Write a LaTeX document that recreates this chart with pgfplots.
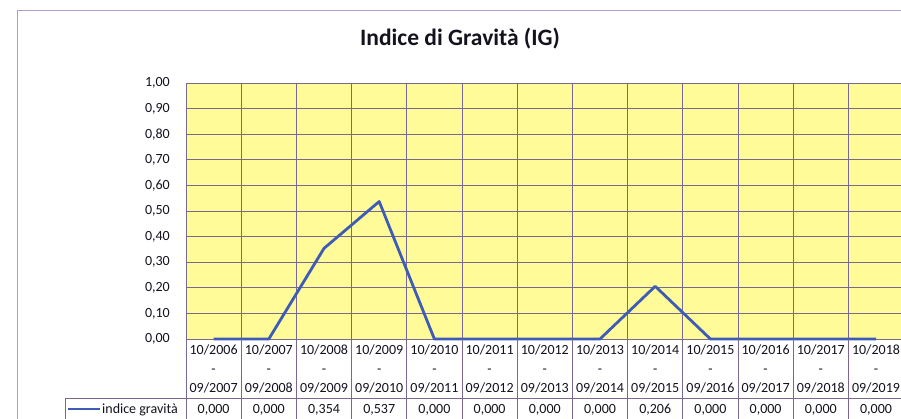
\documentclass[border=0pt]{standalone}
\usepackage{fontspec}
\setmainfont{Carlito}
\usepackage{pgfplots}
\pgfplotsset{compat=1.18}
\definecolor{plotbg}{RGB}{255,251,153}
\definecolor{gridc}{RGB}{120,105,145}
\definecolor{linec}{RGB}{62,92,182}
\definecolor{txt}{RGB}{20,18,30}
\definecolor{chartborder}{RGB}{175,155,205}
\begin{document}
\begin{tikzpicture}[x=1bp,y=1bp]
\useasboundingbox (0,0) rectangle (901,418);
\clip (0,0) rectangle (901,418);
\fill[white] (0,0) rectangle (901,418);
\draw[chartborder, line width=0.8bp] (17,-5) -- (17,408) -- (910,408);
\node[font=\bfseries\fontsize{23.5bp}{26bp}\selectfont, anchor=base, text=txt] at (460,373) {Indice di Gravità (IG)};
\begin{axis}[
  at={(186bp,79bp)}, anchor=south west,
  scale only axis, width=717.6bp, height=256bp,
  xmin=0, xmax=13, ymin=0, ymax=1,
  xtick={0.5,1.5,2.5,3.5,4.5,5.5,6.5,7.5,8.5,9.5,10.5,11.5,12.5},
  xticklabels={10/2006\\-\\09/2007,10/2007\\-\\09/2008,10/2008\\-\\09/2009,10/2009\\-\\09/2010,10/2010\\-\\09/2011,10/2011\\-\\09/2012,10/2012\\-\\09/2013,10/2013\\-\\09/2014,10/2014\\-\\09/2015,10/2015\\-\\09/2016,10/2016\\-\\09/2017,10/2017\\-\\09/2018,10/2018\\-\\09/2019},
  minor xtick={1,2,3,4,5,6,7,8,9,10,11,12},
  ytick={0,0.1,0.2,0.3,0.4,0.5,0.6,0.7,0.8,0.9,1},
  xmajorgrids=false, xminorgrids=true, ymajorgrids=true,
  major grid style={gridc, line width=0.7bp},
  minor grid style={gridc, line width=0.7bp},
  axis line style={gridc, line width=0.7bp},
  axis background/.style={fill=plotbg},
  major tick length=0pt, minor tick length=0pt,
  clip=false,
  xticklabel style={font=\fontsize{14bp}{19bp}\selectfont, text=txt, align=center, anchor=north, inner sep=0pt, yshift=-6bp},
  yticklabel style={font=\fontsize{14bp}{16bp}\selectfont, text=txt, anchor=east, inner sep=0pt, xshift=-16bp},
  /pgf/number format/assume math mode=true,
  yticklabel={\pgfmathprintnumber[fixed, fixed zerofill, precision=2, use comma]{\tick}},
]
\addplot[linec, line width=2.8bp, line join=round] coordinates {
  (0.5,0.000) (1.5,0.000) (2.5,0.354) (3.5,0.537) (4.5,0.000) (5.5,0.000)
  (6.5,0.000) (7.5,0.000) (8.5,0.206) (9.5,0.000) (10.5,0.000) (11.5,0.000) (12.5,0.000)
};
\pgfplotsinvokeforeach{0,...,13}{\draw[gridc, line width=0.7bp] (axis cs:#1,0) -- ++(0,-100bp);}
\draw[gridc, line width=0.7bp] ([xshift=-121bp,yshift=-59bp]axis cs:0,0) -- ([yshift=-59bp]axis cs:13,0);
\draw[gridc, line width=0.7bp] ([xshift=-121bp,yshift=-59bp]axis cs:0,0) -- ++(0,-40bp);
\end{axis}
\draw[linec, line width=2.6bp] (68,9) -- (100,9);
\node[anchor=base west, inner sep=0pt, text=txt, font=\fontsize{14bp}{16bp}\selectfont] at (102,5) {indice gravità};
\foreach \i/\v in {0/{0,000},1/{0,000},2/{0,354},3/{0,537},4/{0,000},5/{0,000},6/{0,000},7/{0,000},8/{0,206},9/{0,000},10/{0,000},11/{0,000},12/{0,000}}
  \node[anchor=base, inner sep=0pt, text=txt, font=\fontsize{14bp}{16bp}\selectfont] at ({186+(\i+0.5)*55.2},5) {\v};
\end{tikzpicture}
\end{document}
